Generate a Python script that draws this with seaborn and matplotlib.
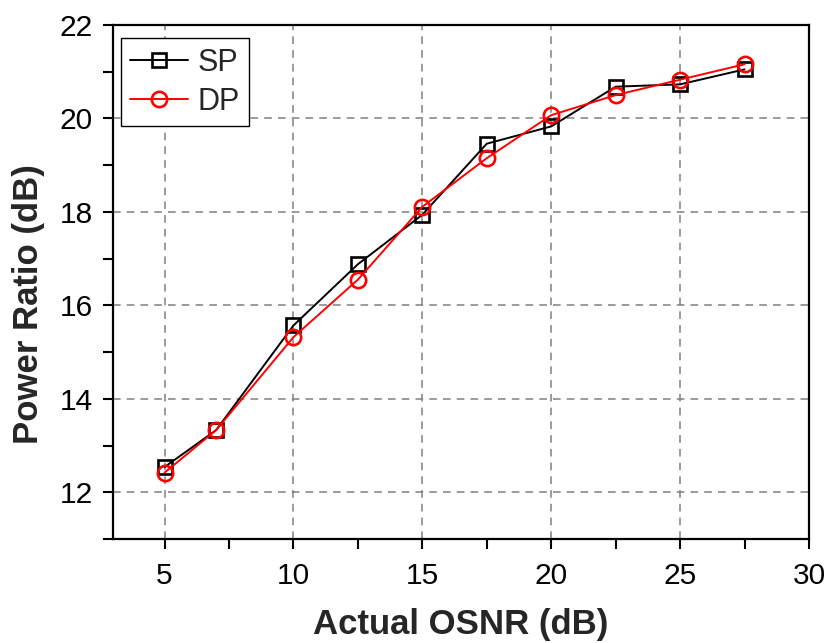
import matplotlib
matplotlib.use("Agg")
import matplotlib.pyplot as plt
import seaborn as sns
import pandas as pd
from matplotlib.ticker import MultipleLocator

osnr = [5, 7, 10, 12.5, 15, 17.5, 20, 22.5, 25, 27.5]
sp = [12.54, 13.33, 15.57, 16.88, 17.94, 19.46, 19.83, 20.68, 20.73, 21.05]
dp = [12.42, 13.33, 15.32, 16.55, 18.11, 19.15, 20.07, 20.50, 20.83, 21.16]
series_names = ["SP", "DP"]
xticks = [5, 10, 15, 20, 25, 30]
yticks = [12, 14, 16, 18, 20, 22]

sns.set_theme(style="ticks")
plt.rcParams['font.family'] = ['Liberation Sans', 'DejaVu Sans']

fig = plt.figure(figsize=(8.29, 6.43), dpi=100)
ax = fig.add_axes([113/829, 1-539/643, (809-113)/829, (539-25)/643])

df_sp = pd.DataFrame({"x": osnr, "y": sp})
df_dp = pd.DataFrame({"x": osnr, "y": dp})

sns.lineplot(data=df_sp, x="x", y="y", ax=ax, color="black", lw=1.4,
             marker="s", markersize=9.5, markerfacecolor="none",
             markeredgecolor="black", markeredgewidth=1.9, label=series_names[0], zorder=3)
sns.lineplot(data=df_dp, x="x", y="y", ax=ax, color="#ff0000", lw=1.4,
             marker="o", markersize=11, markerfacecolor="none",
             markeredgecolor="#ff0000", markeredgewidth=1.9, label=series_names[1], zorder=4)

ax.set_xlim(3, 30)
ax.set_ylim(11, 22)
ax.set_xticks(xticks)
ax.set_yticks(yticks)
ax.xaxis.set_minor_locator(MultipleLocator(2.5))
ax.yaxis.set_minor_locator(MultipleLocator(1))
ax.tick_params(axis="both", which="major", direction="out", length=7.5, width=1.5,
               labelsize=21.5, color="black", labelcolor="black", pad=7)
ax.tick_params(axis="x", which="major", pad=9)
ax.tick_params(axis="both", which="minor", direction="out", length=7, width=1.5,
               color="black")
ax.tick_params(top=False, right=False, which="both")

for s in ax.spines.values():
    s.set_visible(True)
    s.set_linewidth(1.6)
    s.set_color("black")

ax.grid(True, which="major", color="#808080", linestyle=(0, (5, 4)), linewidth=1.1)
ax.set_axisbelow(True)

ax.set_xlabel("Actual OSNR (dB)", fontsize=25, fontweight="bold")
ax.set_ylabel("Power Ratio (dB)", fontsize=25, fontweight="bold")
ax.xaxis.set_label_coords(0.5, -0.134)
ax.yaxis.set_label_coords(-0.098, 0.457)

leg = ax.legend(loc="upper left", bbox_to_anchor=(0.0115, 0.974), fontsize=22,
                frameon=True, fancybox=False, edgecolor="black", framealpha=1,
                handlelength=1.9, handletextpad=0.3, borderpad=0.3,
                labelspacing=0.3, borderaxespad=0, markerscale=1.0)
leg.get_frame().set_linewidth(1.0)

fig.savefig("out.png", dpi=100)
